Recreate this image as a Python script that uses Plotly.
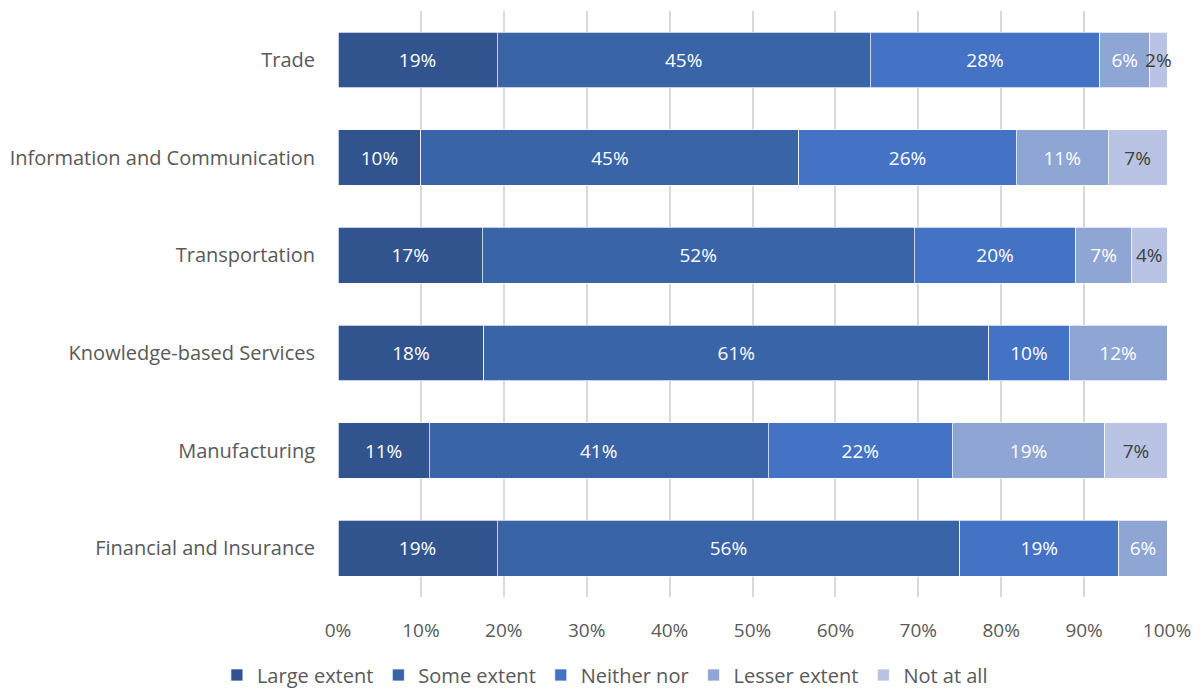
import plotly.graph_objects as go

categories = ["Trade", "Information and Communication", "Transportation",
              "Knowledge-based Services", "Manufacturing", "Financial and Insurance"]
series_names = ["Large extent", "Some extent", "Neither nor", "Lesser extent", "Not at all"]
large = [19.2, 10.0, 17.4, 17.6, 11.0, 19.2]
some = [45.0, 45.6, 52.1, 60.9, 40.9, 55.8]
neither = [27.7, 26.2, 19.5, 9.7, 22.2, 19.2]
lesser = [6.0, 11.1, 6.7, 11.8, 18.4, 5.8]
notatall = [2.1, 7.1, 4.3, 0.0, 7.5, 0.0]
labels = [
    ["19%", "10%", "17%", "18%", "11%", "19%"],
    ["45%", "45%", "52%", "61%", "41%", "56%"],
    ["28%", "26%", "20%", "10%", "22%", "19%"],
    ["6%", "11%", "7%", "12%", "19%", "6%"],
    ["2%", "7%", "4%", "", "7%", ""],
]
colors = ["#31548f", "#3a64a8", "#4472c4", "#8fa5d4", "#b9c3e3"]
text_colors = ["white", "white", "white", "white", "#404040"]

values = [large, some, neither, lesser, notatall]
fig = go.Figure()
for name, vals, lab, col, tc in zip(series_names, values, labels, colors, text_colors):
    fig.add_trace(go.Bar(
        y=categories, x=vals, name=name, orientation="h",
        marker=dict(color=col, line=dict(color="white", width=0.7)),
        text=lab, textposition="inside", insidetextanchor="middle", textangle=0,
        textfont=dict(color=tc, size=19, family="Open Sans"),
        constraintext="none", width=0.57, cliponaxis=False,
        hoverinfo="skip",
    ))

# page body has an 8px margin, so the figure is 8px smaller and margins shifted
fig.update_layout(
    barmode="stack",
    width=1195, height=683,
    margin=dict(l=330, r=36, t=3, b=94),
    plot_bgcolor="white", paper_bgcolor="white",
    font=dict(family="Open Sans", color="#595959", size=19),
    uniformtext=dict(mode="show", minsize=19),
    legend=dict(orientation="h", xref="container", x=0.4995, xanchor="center",
                yref="container", y=0.052, yanchor="top",
                font=dict(size=20, color="#595959"), traceorder="normal",
                itemwidth=30),
    xaxis=dict(range=[0, 100], tickvals=list(range(0, 101, 10)),
               ticktext=[f"{v}%" for v in range(0, 101, 10)],
               showgrid=True, gridcolor="#d9d9d9", gridwidth=1.5,
               zeroline=False, showline=False, ticks="", ticklabelstandoff=20,
               automargin=False, tickfont=dict(size=19)),
    yaxis=dict(categoryorder="array", categoryarray=categories[::-1],
               showgrid=False, ticks="", ticklabelstandoff=22, showline=False,
               automargin=False, tickfont=dict(size=20)),
)
fig.write_html("out.html")
